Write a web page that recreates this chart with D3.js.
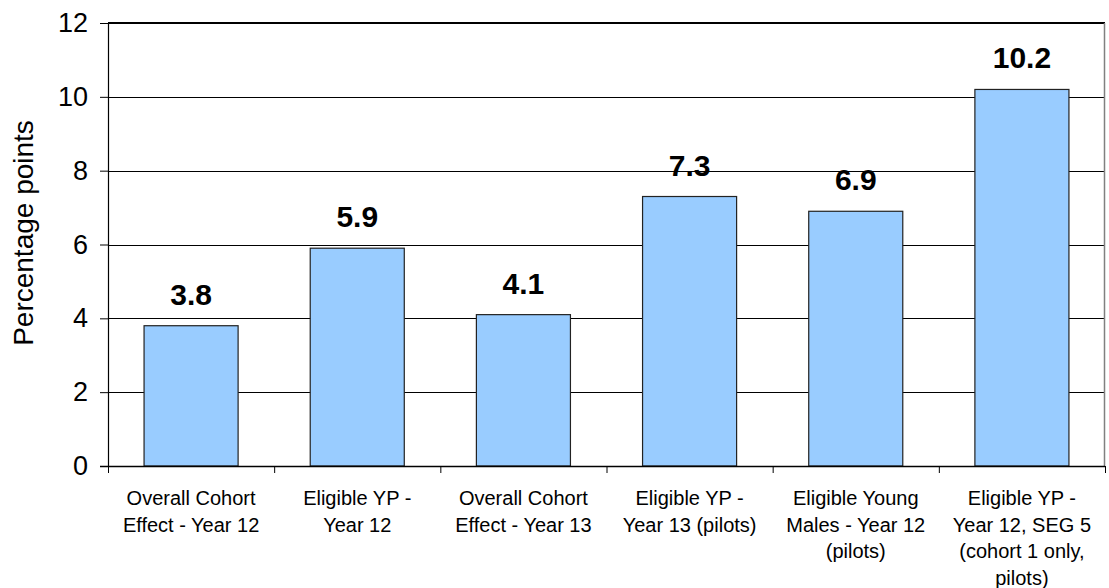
<!DOCTYPE html>
<html>
<head>
<meta charset="utf-8">
<script src="https://cdn.jsdelivr.net/npm/d3@7"></script>
<style>
  body { margin: 0; background: #fff; }
  text { font-family: "Liberation Sans", Arial, sans-serif; }
</style>
</head>
<body>
<div class="viz"></div>
<script>
// Categories, each as wrapped lines
const categories = [
  ["Overall Cohort", "Effect - Year 12"],
  ["Eligible YP -", "Year 12"],
  ["Overall Cohort", "Effect - Year 13"],
  ["Eligible YP -", "Year 13 (pilots)"],
  ["Eligible Young", "Males - Year 12", "(pilots)"],
  ["Eligible YP -", "Year 12, SEG 5", "(cohort 1 only,", "pilots)"],
];
const values = [3.8, 5.9, 4.1, 7.3, 6.9, 10.2];
const yTicks = [0, 2, 4, 6, 8, 10, 12];

const totalWidth = 1109;
const totalHeight = 588;
const margin = { top: 23, right: 4, bottom: 122, left: 108 };
const width = totalWidth - margin.left - margin.right;
const height = totalHeight - margin.top - margin.bottom;

const svg = d3
  .select(".viz")
  .append("svg")
  .attr("width", totalWidth)
  .attr("height", totalHeight);

const g = svg
  .append("g")
  .attr("transform", `translate(${margin.left},${margin.top})`);

// Scales
const xScale = d3
  .scaleBand()
  .domain(d3.range(categories.length))
  .range([0, width])
  .padding(0);

const yScale = d3.scaleLinear().domain([0, 12]).range([height, 0]);

const barWidth = xScale.bandwidth() * 0.566;

// Grid lines
g.selectAll(".grid")
  .data(yTicks.filter((d) => d > 0))
  .enter()
  .append("line")
  .attr("x1", 0)
  .attr("x2", width)
  .attr("y1", (d) => Math.round(yScale(d)) + 0.5)
  .attr("y2", (d) => Math.round(yScale(d)) + 0.5)
  .attr("stroke", "#000")
  .attr("stroke-width", 1);

// Plot border (top thicker, right grey)
g.append("line")
  .attr("x1", 0)
  .attr("x2", width)
  .attr("y1", 0)
  .attr("y2", 0)
  .attr("stroke", "#000")
  .attr("stroke-width", 2);

g.append("line")
  .attr("x1", width - 0.5)
  .attr("x2", width - 0.5)
  .attr("y1", 0)
  .attr("y2", height)
  .attr("stroke", "#808080")
  .attr("stroke-width", 1.5);

// Bars
g.selectAll(".bar")
  .data(values)
  .enter()
  .append("rect")
  .attr("x", (d, i) => xScale(i) + (xScale.bandwidth() - barWidth) / 2)
  .attr("y", (d) => yScale(d))
  .attr("width", barWidth)
  .attr("height", (d) => height - yScale(d))
  .attr("fill", "#99CCFF")
  .attr("stroke", "#222")
  .attr("stroke-width", 1.2);

// Value labels
g.selectAll(".value-label")
  .data(values)
  .enter()
  .append("text")
  .attr("x", (d, i) => xScale(i) + xScale.bandwidth() / 2)
  .attr("y", (d) => yScale(d) - 21)
  .attr("text-anchor", "middle")
  .style("font-size", "30px")
  .style("font-weight", "bold")
  .attr("fill", "#000")
  .text((d) => d.toFixed(1));

// Y axis
const yAxis = g
  .append("g")
  .call(d3.axisLeft(yScale).tickValues(yTicks).tickSize(8).tickPadding(12));
yAxis.select(".domain").attr("stroke", "#000").attr("stroke-width", 1.2);
yAxis.selectAll(".tick line").attr("stroke", "#000");
yAxis
  .selectAll(".tick text")
  .style("font-size", "27px")
  .attr("fill", "#000")
  .attr("font-family", "Liberation Sans, Arial, sans-serif");

// X axis baseline and ticks at band boundaries
g.append("line")
  .attr("x1", -8)
  .attr("x2", width)
  .attr("y1", height + 0.5)
  .attr("y2", height + 0.5)
  .attr("stroke", "#000")
  .attr("stroke-width", 1.5);

g.selectAll(".xtick")
  .data(d3.range(categories.length + 1))
  .enter()
  .append("line")
  .attr("x1", (d) => (d < categories.length ? xScale(d) : width) + 0.5)
  .attr("x2", (d) => (d < categories.length ? xScale(d) : width) + 0.5)
  .attr("y1", height)
  .attr("y2", height + 7)
  .attr("stroke", "#000")
  .attr("stroke-width", 1);

// Category labels
g.selectAll(".cat-label")
  .data(categories)
  .enter()
  .append("text")
  .attr("text-anchor", "middle")
  .style("font-size", "20px")
  .attr("fill", "#000")
  .each(function (lines, i) {
    const text = d3.select(this);
    lines.forEach((line, j) => {
      text
        .append("tspan")
        .attr("x", xScale(i) + xScale.bandwidth() / 2)
        .attr("y", height + 39 + j * 26.5)
        .text(line);
    });
  });

// Y axis title
svg
  .append("text")
  .attr("transform", `translate(33, 233) rotate(-90)`)
  .attr("text-anchor", "middle")
  .style("font-size", "28px")
  .attr("fill", "#000")
  .text("Percentage points");
</script>
</body>
</html>
